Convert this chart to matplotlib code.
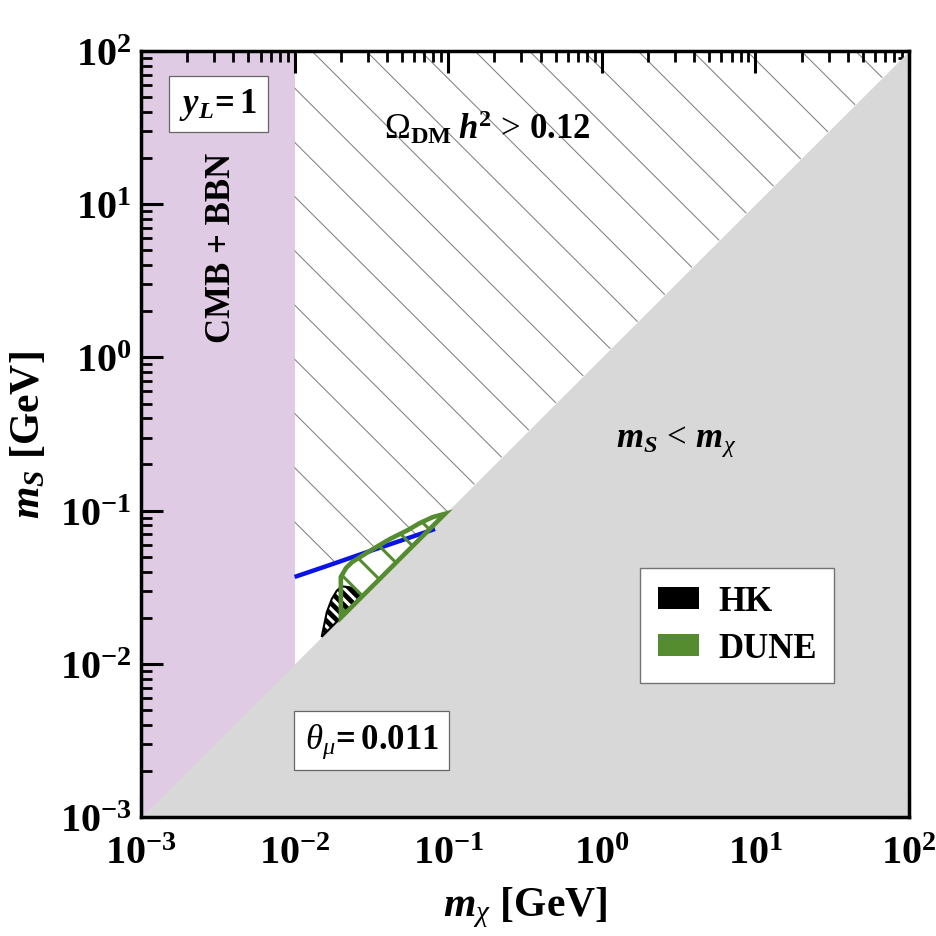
import numpy as np
import matplotlib
matplotlib.use('Agg')
from matplotlib import pyplot as plt
from matplotlib.patches import Patch, Polygon
from matplotlib.ticker import LogLocator, FuncFormatter, NullFormatter

plt.rcParams['font.family'] = ['Liberation Serif', 'DejaVu Serif']
plt.rcParams['font.weight'] = 'bold'
plt.rcParams['mathtext.fontset'] = 'custom'
plt.rcParams['mathtext.rm'] = 'Liberation Serif:normal'
plt.rcParams['mathtext.it'] = 'Liberation Serif:italic:normal'
plt.rcParams['mathtext.bf'] = 'Liberation Serif:bold'
plt.rcParams['mathtext.bfit'] = 'Liberation Serif:italic:bold'
plt.rcParams['hatch.linewidth'] = 2.2

# plot range and CMB+BBN bound (GeV)
m_min, m_max = 1e-3, 1e2
cmb_bbn_edge = 1e-2

# relic density boundary (blue line)
relic_mx = [0.0100, 0.0170, 0.0324, 0.0485, 0.0820]
relic_ms = [0.0369, 0.0442, 0.0553, 0.0634, 0.0759]

# HK sensitivity region
hk_mx = [0.0150, 0.01538, 0.01619, 0.01745, 0.01881, 0.02027, 0.02296, 0.02600, 0.02735]
hk_ms = [0.0150, 0.01687, 0.02168, 0.02648, 0.03000, 0.03206, 0.03155, 0.02931, 0.02735]

# DUNE sensitivity region
dune_mx = [0.0200, 0.0200, 0.02163, 0.02366, 0.0287, 0.0349, 0.0418, 0.0547, 0.0655, 0.0796, 0.0953]
dune_ms = [0.0200, 0.0369, 0.0422, 0.0461, 0.0521, 0.0587, 0.0653, 0.0747, 0.0830, 0.0908, 0.0953]

purple = '#e0cbe4'
gray = '#d8d8d8'
green = '#548c2f'
blue = '#0a14e6'

fig = plt.figure(figsize=(9.37, 9.37), dpi=100)
ax = fig.add_axes([0.1505, 0.127, 0.8196, 0.8175])
ax.set_xscale('log')
ax.set_yscale('log')
ax.set_xlim(m_min, m_max)
ax.set_ylim(m_min, m_max)

# CMB + BBN excluded strip
ax.axvspan(m_min, cmb_bbn_edge, color=purple, lw=0, zorder=1)

# sparse diagonal hatch for the overabundant region (lines of constant m_chi*m_S)
hatch_step = 0.354
hatch_phase = -0.242
verts = [(cmb_bbn_edge, m_max), (m_max, m_max), (relic_mx[-1], relic_mx[-1])]
verts += list(zip(relic_mx[::-1], relic_ms[::-1]))
clip = Polygon(verts, closed=True, transform=ax.transData, fc='none', ec='none')
ax.add_patch(clip)
for c in hatch_phase + hatch_step * np.arange(-14, 16):
    xs = np.array([1e-5, 1e4])
    ln, = ax.plot(xs, 10**c / xs, color='0.5', lw=0.75, zorder=1.5)
    ln.set_clip_path(clip)

# m_S < m_chi
ax.fill_between([m_min, m_max], [m_min, m_min], [m_min, m_max], color=gray, lw=0, zorder=2)

# HK
ax.fill(hk_mx, hk_ms, facecolor='black', edgecolor='white', hatch='\\\\\\', lw=0, zorder=3)
ax.fill(hk_mx, hk_ms, facecolor='none', edgecolor='black', lw=1.5, zorder=3.1)

ax.plot(relic_mx, relic_ms, color=blue, lw=3.2, zorder=4, solid_capstyle='butt')

# DUNE
ax.fill(dune_mx, dune_ms, facecolor='none', edgecolor=green, hatch='\\', lw=3.3, zorder=5)

box = dict(boxstyle='square,pad=0.3', fc='white', ec='0.4', lw=0.9)
ax.text(0.1009, 0.9308, r'$\mathbfit{y}_{\mathbfit{L}}\!\mathbf{=1}$', transform=ax.transAxes,
        ha='center', va='center', fontsize=25, bbox=box, zorder=6)
ax.text(0.3004, 0.0996, r'$\theta_{\mu}\!\mathbf{=0.011}$', transform=ax.transAxes,
        ha='center', va='center', fontsize=25, bbox=box, zorder=6)
ax.text(0.4505, 0.901, r'$\Omega_{\mathbf{DM}}\;\mathbfit{h}^{\mathbf{2}}\,>\,\mathbf{0.12}$',
        transform=ax.transAxes, ha='center', va='center', fontsize=25, zorder=6)
ax.text(0.697, 0.491, r'$\mathbfit{m}_{\mathbfit{S}}\,<\,\mathbfit{m}_{\chi}$',
        transform=ax.transAxes, ha='center', va='center', fontsize=25, zorder=6)
ax.text(0.105, 0.744, 'CMB + BBN', transform=ax.transAxes, rotation=90,
        ha='center', va='center', fontsize=25, fontweight='bold', zorder=6)

handles = [Patch(facecolor='black', edgecolor='none'), Patch(facecolor=green, edgecolor='none')]
leg = ax.legend(handles, ['HK', 'DUNE'], loc='upper left', bbox_to_anchor=(0.650, 0.325),
                frameon=True, fancybox=False, edgecolor='0.45', framealpha=1,
                prop=dict(family='Liberation Serif', weight='bold', size=25),
                handlelength=1.2, handleheight=0.6, borderpad=0.5, labelspacing=0.4,
                handletextpad=0.55, borderaxespad=0)
leg.get_frame().set_linewidth(1.0)
leg.set_zorder(7)

fmt = FuncFormatter(lambda v, pos: r'$\mathbf{10^{%d}}$' % round(np.log10(v)))
for axis in (ax.xaxis, ax.yaxis):
    axis.set_major_locator(LogLocator(base=10, numticks=10))
    axis.set_minor_locator(LogLocator(base=10, subs=np.arange(2, 10), numticks=10))
    axis.set_major_formatter(fmt)
    axis.set_minor_formatter(NullFormatter())

ax.tick_params(which='both', direction='in', top=True, right=True, labelsize=29)
ax.tick_params(axis='x', pad=13)
ax.tick_params(axis='y', pad=7)
ax.tick_params(which='major', length=16, width=2.2)
ax.tick_params(which='minor', length=8, width=2.0)
for s in ax.spines.values():
    s.set_linewidth(2.5)
    s.set_zorder(8)

ax.set_xlabel(r'$\mathbfit{m}_{\chi}$ [GeV]', fontsize=30, fontweight='bold', labelpad=9)
ax.set_ylabel(r'$\mathbfit{m}_{\mathbfit{S}}$ [GeV]', fontsize=30, fontweight='bold', labelpad=8)

fig.savefig('out.png', dpi=100)
